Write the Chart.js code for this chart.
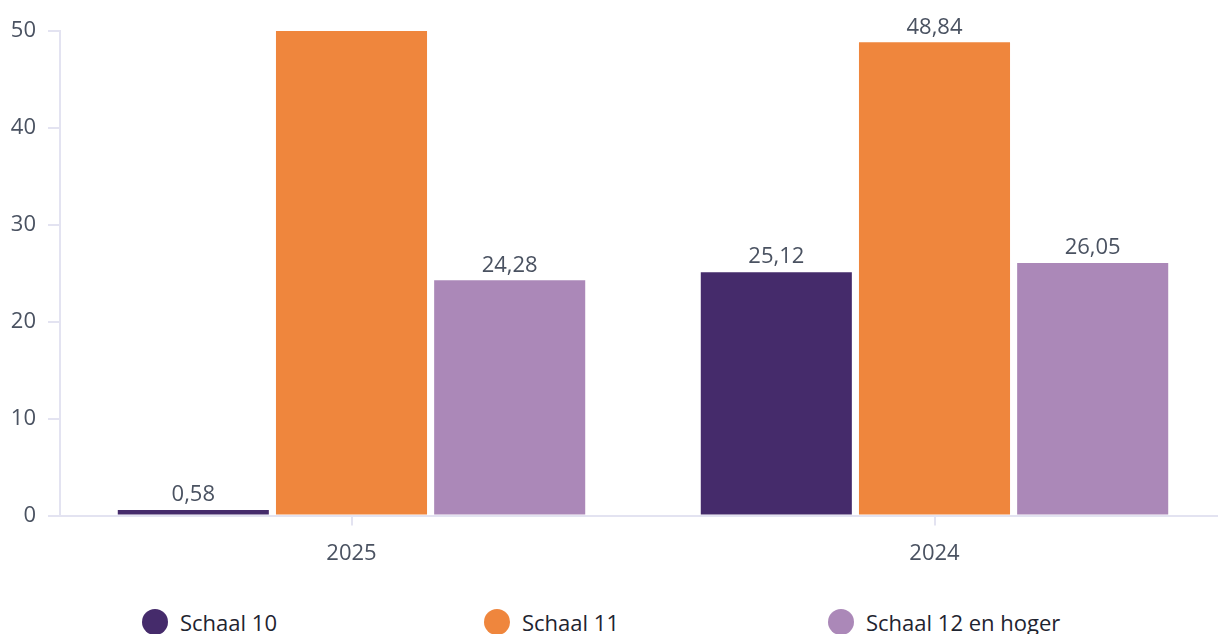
<!DOCTYPE html>
<html lang="nl">
<head>
    <meta charset="UTF-8">
    <title>Schaal verdeling</title>
    <style>
        html, body { margin: 0; padding: 0; background: #fff; overflow: hidden; }
        .wrap { position: relative; width: 1218px; height: 634px; overflow: hidden; }
        .chart-box { position: absolute; left: 0; top: 0; width: 1228px; height: 582px; }
        .legend { position: absolute; top: 607px; left: 0; width: 1218px; height: 27px; font-family: "Open Sans", sans-serif; font-size: 22px; color: #1f2430; }
        .legend-item { position: absolute; top: 0; display: flex; align-items: center; white-space: nowrap; }
        .legend-item .dot { width: 26px; height: 26px; border-radius: 50%; margin-right: 12px; }
    </style>
</head>
<body>
<div class="wrap">
    <div class="chart-box"><canvas id="chart"></canvas></div>
    <div class="legend" id="legend"></div>
</div>

<script src="https://cdn.jsdelivr.net/npm/chart.js"></script>
<script>
    // data
    const years = ['2025', '2024'];
    const schaal10 = [0.58, 25.12];
    const schaal11 = [75.14, 48.84];
    const schaal12 = [24.28, 26.05];
    const seriesNames = ['Schaal 10', 'Schaal 11', 'Schaal 12 en hoger'];
    const seriesColors = ['#452b6b', '#ef863d', '#ab88b8'];
    const yTicks = [0, 10, 20, 30, 40, 50];

    const textColor = '#4a5261';
    const axisColor = '#e3e3f1';

    // value labels above bars (hidden when the bar runs past the axis top)
    const valueLabels = {
        id: 'valueLabels',
        afterDatasetsDraw(chart) {
            const ctx = chart.ctx;
            const yMax = chart.scales.y.max;
            ctx.save();
            ctx.font = '22px "Open Sans"';
            ctx.fillStyle = textColor;
            ctx.textAlign = 'center';
            ctx.textBaseline = 'bottom';
            chart.data.datasets.forEach((ds, i) => {
                chart.getDatasetMeta(i).data.forEach((bar, j) => {
                    const v = ds.data[j];
                    if (v > yMax) return;
                    ctx.fillText(v.toFixed(2).replace('.', ','), bar.x, bar.y - 4);
                });
            });
            ctx.restore();
        }
    };

    const allSeries = [schaal10, schaal11, schaal12];

    new Chart(document.getElementById('chart'), {
        type: 'bar',
        data: {
            labels: years,
            datasets: allSeries.map((d, i) => ({
                label: seriesNames[i],
                data: d,
                backgroundColor: seriesColors[i],
                borderWidth: 0,
                barPercentage: 0.955,
                categoryPercentage: 0.814
            }))
        },
        options: {
            responsive: true,
            maintainAspectRatio: false,
            animation: false,
            layout: { padding: { top: 31, left: 0, right: 2, bottom: 0 } },
            plugins: {
                legend: { display: false },
                tooltip: { enabled: false }
            },
            scales: {
                x: {
                    grid: { display: true, drawOnChartArea: false, drawTicks: true, tickLength: 10, offset: false, color: axisColor, lineWidth: 2 },
                    border: { display: true, color: axisColor, width: 2 },
                    ticks: { color: textColor, font: { family: 'Open Sans', size: 22 }, padding: 15 }
                },
                y: {
                    min: 0,
                    max: 50,
                    afterBuildTicks: s => { s.ticks = yTicks.map(v => ({ value: v })); },
                    afterFit: s => { s.width = 60; },
                    grid: { display: true, drawOnChartArea: false, drawTicks: true, tickLength: 12, color: axisColor, lineWidth: 2 },
                    border: { display: true, color: axisColor, width: 2 },
                    ticks: { color: textColor, font: { family: 'Open Sans', size: 22 }, padding: 12 }
                }
            }
        },
        plugins: [valueLabels]
    });

    // legend
    const legendEl = document.getElementById('legend');
    const legendLeft = [142, 484, 828];
    seriesNames.forEach((name, i) => {
        const item = document.createElement('div');
        item.className = 'legend-item';
        item.style.left = legendLeft[i] + 'px';
        item.innerHTML = '<span class="dot" style="background:' + seriesColors[i] + '"></span><span>' + name + '</span>';
        legendEl.appendChild(item);
    });
</script>
</body>
</html>
